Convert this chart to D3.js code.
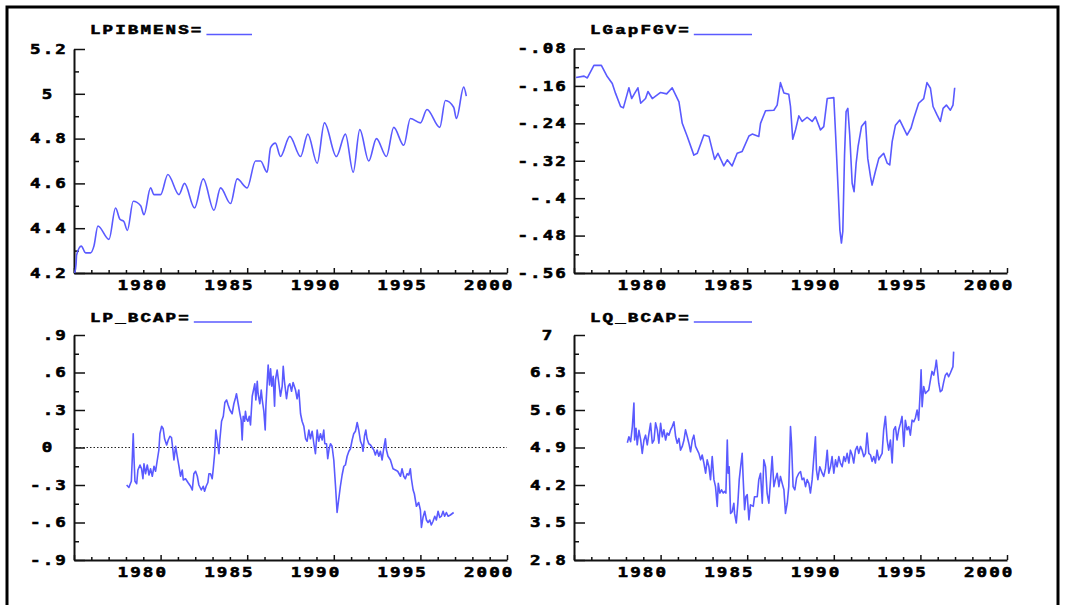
<!DOCTYPE html>
<html>
<head>
<meta charset="utf-8">
<script src="https://cdn.jsdelivr.net/npm/d3@7"></script>
<style>
  body { margin: 0; background: #fff; }
  svg { display: block; }
</style>
</head>
<body>
<svg width="1066" height="605"></svg>
<script>
// ---- data ----
const yearLabels = [1980, 1985, 1990, 1995, 2000];

const lpibYears = [1975.04,1975.12,1975.15,1975.42,1975.67,1975.96,1976.15,1976.38,1977.02,1977.40,1977.65,1977.88,1978.08,1978.42,1978.85,1979.04,1979.42,1979.62,1980.00,1980.42,1981.06,1981.38,1981.96,1982.46,1983.08,1983.46,1984.04,1984.42,1985.00,1985.48,1985.77,1986.15,1986.35,1986.63,1986.92,1987.46,1988.08,1988.50,1989.04,1989.46,1990.15,1990.67,1991.12,1991.50,1992.02,1992.46,1993.04,1993.46,1994.04,1994.42,1995.00,1995.38,1996.12,1996.44,1996.92,1997.08,1997.50,1997.65];
const lpibValues = [4.20,4.24,4.28,4.32,4.29,4.29,4.32,4.41,4.35,4.49,4.44,4.43,4.39,4.52,4.50,4.46,4.58,4.55,4.55,4.64,4.55,4.60,4.49,4.62,4.48,4.58,4.51,4.62,4.58,4.70,4.70,4.65,4.76,4.78,4.72,4.81,4.72,4.82,4.69,4.87,4.72,4.82,4.65,4.84,4.70,4.80,4.72,4.85,4.77,4.89,4.87,4.93,4.85,4.97,4.94,4.89,5.03,4.99];
const lpibTicks = [5.2, 5, 4.8, 4.6, 4.4, 4.2];
const lpibLabels = ["5.2", "5", "4.8", "4.6", "4.4", "4.2"];

const gapYears = [1975.12,1975.58,1975.77,1976.15,1976.58,1976.92,1977.21,1977.40,1977.69,1977.85,1978.08,1978.17,1978.33,1978.50,1978.69,1978.85,1979.13,1979.27,1979.52,1980.00,1980.35,1980.67,1981.06,1981.25,1981.54,1981.92,1982.12,1982.50,1982.79,1983.12,1983.31,1983.65,1983.85,1984.13,1984.42,1984.71,1985.10,1985.29,1985.67,1985.77,1986.06,1986.54,1986.73,1986.92,1987.12,1987.40,1987.50,1987.63,1987.79,1987.98,1988.17,1988.46,1988.75,1988.94,1989.23,1989.42,1989.62,1990.00,1990.12,1990.25,1990.35,1990.44,1990.52,1990.62,1990.71,1990.81,1990.92,1991.06,1991.17,1991.29,1991.40,1991.60,1991.83,1991.96,1992.12,1992.21,1992.40,1992.60,1992.88,1993.08,1993.23,1993.37,1993.56,1993.81,1994.23,1994.46,1994.62,1994.90,1995.19,1995.38,1995.58,1995.73,1995.96,1996.15,1996.31,1996.50,1996.73,1996.88,1996.98];
const gapValues = [-0.142,-0.139,-0.143,-0.116,-0.116,-0.140,-0.155,-0.176,-0.204,-0.207,-0.176,-0.164,-0.187,-0.176,-0.164,-0.197,-0.187,-0.172,-0.187,-0.174,-0.177,-0.164,-0.194,-0.240,-0.268,-0.308,-0.304,-0.265,-0.268,-0.317,-0.304,-0.331,-0.318,-0.331,-0.304,-0.300,-0.267,-0.263,-0.268,-0.240,-0.213,-0.212,-0.201,-0.153,-0.175,-0.178,-0.204,-0.274,-0.254,-0.224,-0.236,-0.227,-0.236,-0.226,-0.254,-0.247,-0.187,-0.185,-0.276,-0.382,-0.468,-0.496,-0.471,-0.308,-0.215,-0.208,-0.265,-0.368,-0.386,-0.325,-0.290,-0.247,-0.236,-0.315,-0.354,-0.372,-0.343,-0.315,-0.304,-0.325,-0.329,-0.279,-0.244,-0.233,-0.265,-0.250,-0.229,-0.197,-0.187,-0.153,-0.165,-0.204,-0.222,-0.236,-0.208,-0.201,-0.212,-0.201,-0.164];
const gapTicks = [-0.08, -0.16, -0.24, -0.32, -0.40, -0.48, -0.56];
const gapLabels = ["-.08", "-.16", "-.24", "-.32", "-.4", "-.48", "-.56"];

const lpYears = [1978.04,1978.17,1978.31,1978.37,1978.42,1978.46,1978.52,1978.62,1978.69,1978.81,1978.90,1978.98,1979.04,1979.13,1979.23,1979.33,1979.42,1979.52,1979.62,1979.71,1979.81,1979.90,1979.96,1980.06,1980.15,1980.23,1980.35,1980.44,1980.54,1980.63,1980.71,1980.77,1980.87,1980.96,1981.06,1981.15,1981.25,1981.31,1981.44,1981.58,1981.73,1981.83,1981.92,1982.02,1982.12,1982.21,1982.35,1982.46,1982.54,1982.63,1982.73,1982.79,1982.88,1982.98,1983.04,1983.12,1983.19,1983.27,1983.37,1983.42,1983.52,1983.62,1983.71,1983.81,1983.90,1984.00,1984.13,1984.23,1984.33,1984.38,1984.48,1984.58,1984.65,1984.71,1984.77,1984.85,1984.90,1984.96,1985.04,1985.12,1985.19,1985.29,1985.35,1985.44,1985.50,1985.58,1985.63,1985.73,1985.81,1985.87,1985.96,1986.04,1986.08,1986.15,1986.21,1986.29,1986.35,1986.42,1986.50,1986.58,1986.63,1986.73,1986.83,1986.92,1987.02,1987.08,1987.15,1987.27,1987.37,1987.46,1987.56,1987.65,1987.79,1987.88,1987.98,1988.08,1988.17,1988.27,1988.37,1988.46,1988.56,1988.65,1988.75,1988.85,1988.94,1989.04,1989.13,1989.23,1989.33,1989.42,1989.48,1989.58,1989.65,1989.73,1989.81,1989.90,1990.00,1990.10,1990.19,1990.27,1990.38,1990.48,1990.58,1990.67,1990.77,1990.87,1990.96,1991.06,1991.15,1991.25,1991.35,1991.44,1991.54,1991.63,1991.69,1991.77,1991.85,1991.92,1992.02,1992.12,1992.31,1992.40,1992.50,1992.60,1992.69,1992.79,1992.88,1992.98,1993.04,1993.13,1993.27,1993.42,1993.56,1993.69,1993.85,1993.94,1994.04,1994.13,1994.23,1994.33,1994.42,1994.48,1994.58,1994.65,1994.77,1994.90,1995.00,1995.06,1995.15,1995.25,1995.35,1995.44,1995.54,1995.63,1995.73,1995.83,1995.92,1996.02,1996.12,1996.21,1996.31,1996.40,1996.50,1996.60,1996.73,1996.92];
const lpValues = [-0.30,-0.32,-0.27,-0.07,0.11,-0.07,-0.27,-0.29,-0.18,-0.14,-0.17,-0.25,-0.13,-0.21,-0.14,-0.22,-0.17,-0.23,-0.15,-0.19,-0.10,-0.02,0.11,0.17,0.15,0.07,0.02,0.06,0.09,0.08,-0.02,-0.10,0.01,-0.07,-0.15,-0.23,-0.18,-0.26,-0.25,-0.28,-0.31,-0.34,-0.21,-0.19,-0.23,-0.30,-0.34,-0.31,-0.35,-0.31,-0.28,-0.21,-0.21,-0.25,-0.17,-0.05,0.14,0.06,-0.05,0.06,0.21,0.25,0.36,0.38,0.34,0.30,0.27,0.35,0.40,0.43,0.35,0.27,0.22,0.06,0.25,0.21,0.29,0.23,0.21,0.25,0.18,0.41,0.45,0.51,0.38,0.53,0.43,0.35,0.46,0.38,0.29,0.14,0.33,0.51,0.66,0.50,0.63,0.49,0.57,0.33,0.54,0.62,0.51,0.41,0.49,0.65,0.53,0.39,0.49,0.51,0.45,0.52,0.46,0.39,0.46,0.27,0.21,0.17,0.07,0.05,0.14,0.07,0.13,0.03,-0.05,0.14,0.05,0.11,0.06,0.14,0.03,0.03,-0.09,-0.01,0.03,0.01,-0.10,-0.31,-0.52,-0.43,-0.31,-0.22,-0.15,-0.14,-0.07,-0.03,-0.01,0.06,0.11,0.13,0.20,0.14,0.05,0.02,-0.03,0.09,0.14,0.07,0.03,0.02,-0.02,-0.06,-0.02,-0.07,-0.03,-0.10,-0.01,0.07,-0.02,-0.07,-0.10,-0.17,-0.18,-0.19,-0.23,-0.17,-0.23,-0.25,-0.21,-0.22,-0.17,-0.25,-0.34,-0.37,-0.47,-0.44,-0.50,-0.64,-0.56,-0.51,-0.58,-0.60,-0.58,-0.62,-0.59,-0.55,-0.58,-0.51,-0.56,-0.55,-0.51,-0.55,-0.52,-0.55,-0.54,-0.52];
const lpTicks = [0.9, 0.6, 0.3, 0, -0.3, -0.6, -0.9];
const lpLabels = [".9", ".6", ".3", "0", "-.3", "-.6", "-.9"];

const lqYears = [1978.08,1978.17,1978.27,1978.37,1978.46,1978.50,1978.58,1978.65,1978.75,1978.85,1978.94,1979.04,1979.13,1979.23,1979.33,1979.42,1979.52,1979.62,1979.71,1979.81,1979.90,1980.00,1980.10,1980.19,1980.29,1980.38,1980.48,1980.58,1980.67,1980.77,1980.87,1980.96,1981.06,1981.15,1981.25,1981.35,1981.44,1981.54,1981.63,1981.73,1981.83,1981.92,1982.02,1982.12,1982.21,1982.31,1982.40,1982.50,1982.60,1982.69,1982.79,1982.88,1982.98,1983.08,1983.17,1983.27,1983.33,1983.42,1983.52,1983.62,1983.69,1983.77,1983.85,1983.90,1983.96,1984.04,1984.13,1984.23,1984.27,1984.37,1984.46,1984.54,1984.62,1984.71,1984.77,1984.85,1984.92,1985.00,1985.10,1985.19,1985.35,1985.42,1985.58,1985.67,1985.77,1985.87,1985.96,1986.06,1986.15,1986.25,1986.35,1986.44,1986.54,1986.63,1986.73,1986.83,1986.92,1987.02,1987.12,1987.21,1987.31,1987.40,1987.50,1987.56,1987.65,1987.75,1987.85,1987.98,1988.08,1988.17,1988.27,1988.37,1988.46,1988.56,1988.65,1988.75,1988.85,1988.94,1989.00,1989.08,1989.19,1989.33,1989.42,1989.52,1989.62,1989.71,1989.81,1989.90,1990.00,1990.10,1990.19,1990.29,1990.38,1990.48,1990.58,1990.67,1990.77,1990.87,1990.96,1991.06,1991.15,1991.25,1991.35,1991.44,1991.54,1991.63,1991.73,1991.83,1991.92,1992.02,1992.12,1992.21,1992.31,1992.40,1992.50,1992.60,1992.69,1992.79,1992.88,1992.98,1993.08,1993.17,1993.27,1993.37,1993.46,1993.56,1993.65,1993.75,1993.85,1993.94,1994.04,1994.13,1994.23,1994.33,1994.42,1994.52,1994.62,1994.71,1994.81,1994.90,1995.00,1995.04,1995.10,1995.19,1995.29,1995.38,1995.48,1995.58,1995.67,1995.77,1995.87,1995.92,1996.00,1996.06,1996.15,1996.25,1996.35,1996.44,1996.54,1996.63,1996.73,1996.88,1996.92];
const lqValues = [4.99,5.10,5.01,5.29,5.73,5.04,5.26,4.95,5.22,5.04,4.79,5.04,5.13,4.95,5.17,5.35,4.98,5.04,5.36,5.23,4.98,5.35,5.10,5.23,5.04,5.17,5.13,5.23,5.29,5.38,5.10,4.98,5.07,4.85,4.92,5.04,5.23,5.10,4.98,4.82,5.04,5.13,4.92,4.85,4.79,4.67,4.76,4.61,4.42,4.67,4.54,4.30,4.73,4.30,4.17,3.80,4.23,4.05,4.11,4.05,4.08,4.05,5.04,4.42,4.54,3.67,3.70,3.86,3.67,3.49,3.86,4.30,4.54,4.79,4.30,3.74,3.98,4.02,3.55,3.83,3.80,3.98,3.98,4.30,4.42,3.86,4.67,4.54,4.05,3.86,4.30,4.73,4.17,4.30,4.42,4.17,4.36,4.23,4.11,3.67,3.86,4.17,5.29,4.98,4.17,4.11,4.33,4.42,4.45,4.30,4.33,4.17,4.30,4.23,4.05,4.30,4.73,5.10,4.48,4.30,4.54,4.42,4.36,4.51,4.85,4.42,4.54,4.73,4.42,4.67,4.54,4.73,4.61,4.54,4.73,4.64,4.79,4.61,4.85,4.76,4.61,4.85,4.92,4.79,4.92,4.85,4.73,4.79,5.17,4.79,4.76,4.64,4.73,4.61,4.85,4.67,4.73,4.79,5.23,5.48,5.04,4.85,5.04,4.61,5.23,5.29,5.04,5.23,5.35,5.48,4.92,5.41,5.23,5.29,5.13,5.41,5.38,5.45,5.60,5.41,6.01,6.35,5.66,6.04,5.91,5.94,5.97,6.16,6.32,6.25,6.41,6.53,6.29,6.10,5.94,5.97,6.13,6.25,6.29,6.22,6.29,6.41,6.69];
const lqTicks = [7, 6.3, 5.6, 4.9, 4.2, 3.5, 2.8];
const lqLabels = ["7", "6.3", "5.6", "4.9", "4.2", "3.5", "2.8"];

// ---- layout ----
const svg = d3.select("svg");
const lineColor = "#5a5aff";
const sx = 1.3; // stretch the glyphs sideways like the original bitmap font

svg.append("rect")
  .attr("x", 7).attr("y", 7)
  .attr("width", 1051).attr("height", 640)
  .attr("fill", "none").attr("stroke", "#000").attr("stroke-width", 3);

const panels = [
  { title: "LPIBMENS=", t: lpibYears, v: lpibValues, ticks: lpibTicks, labels: lpibLabels,
    left: 74, top: 49, bottom: 273, titleY: 34.5, curve: d3.curveMonotoneX },
  { title: "LGapFGV=", t: gapYears, v: gapValues, ticks: gapTicks, labels: gapLabels,
    left: 574, top: 48.5, bottom: 273, titleY: 34.5, curve: d3.curveLinear },
  { title: "LP_BCAP=", t: lpYears, v: lpValues, ticks: lpTicks, labels: lpLabels,
    left: 74, top: 335, bottom: 560, titleY: 322, curve: d3.curveLinear, zero: true },
  { title: "LQ_BCAP=", t: lqYears, v: lqValues, ticks: lqTicks, labels: lqLabels,
    left: 574, top: 335, bottom: 560, titleY: 322, curve: d3.curveLinear }
];

function bitmapText(sel) {
  sel.attr("font-family", "'DejaVu Sans Mono', monospace")
    .attr("font-weight", "bold")
    .attr("font-size", 13.5)
    .attr("letter-spacing", 1.6)
    .attr("fill", "#000")
    .attr("stroke", "#000")
    .attr("stroke-width", 0.55)
    .attr("transform", `scale(${sx},1)`);
}

panels.forEach(p => {
  const x = d3.scaleLinear().domain([1975, 2000]).range([p.left, p.left + 433]);
  const y = d3.scaleLinear().domain([p.ticks[p.ticks.length - 1], p.ticks[0]]).range([p.bottom, p.top]);
  const g = svg.append("g");

  // minor y ticks, half way between labelled ones
  const yMinor = d3.pairs(p.ticks).map(([a, b]) => (a + b) / 2);
  g.append("g")
    .attr("transform", `translate(${p.left},0)`)
    .call(d3.axisLeft(y).tickValues(yMinor).tickSize(-5).tickFormat(""))
    .call(s => s.select(".domain").remove());

  const ya = g.append("g")
    .attr("transform", `translate(${p.left},0)`)
    .call(d3.axisLeft(y).tickValues(p.ticks).tickSize(-11).tickSizeOuter(0)
      .tickFormat((d, i) => p.labels[i]));
  ya.selectAll("text").call(bitmapText)
    .attr("text-anchor", (d, i) => p.labels[i].length === 1 ? "middle" : "end")
    .attr("x", (d, i) => (p.labels[i].length === 1 ? -26 : -6) / sx);

  // x axis: a tick every year, bigger every five
  const yearsAll = d3.range(1975, 2001);
  g.append("g")
    .attr("transform", `translate(0,${p.bottom})`)
    .call(d3.axisBottom(x).tickValues(yearsAll.filter(d => d % 5)).tickSize(-3).tickFormat(""))
    .call(s => s.select(".domain").remove());
  const xa = g.append("g")
    .attr("transform", `translate(0,${p.bottom})`)
    .call(d3.axisBottom(x).tickValues([1975].concat(yearLabels)).tickSize(-5).tickSizeOuter(0)
      .tickFormat(d => yearLabels.includes(d) ? d : ""));
  xa.selectAll("text").call(bitmapText)
    .attr("text-anchor", "end")
    .attr("x", 7 / sx)
    .attr("y", 17)
    .attr("dy", 0);

  g.selectAll(".domain").attr("stroke", "#111").attr("stroke-width", 2);
  g.selectAll(".tick line").attr("stroke", "#111").attr("stroke-width", 1.5);

  if (p.zero) {
    g.append("line")
      .attr("x1", p.left + 2).attr("x2", x(2000))
      .attr("y1", y(0)).attr("y2", y(0))
      .attr("stroke", "#222").attr("stroke-width", 1)
      .attr("stroke-dasharray", "1.5,2");
  }

  const pts = d3.zip(p.t, p.v);
  g.append("path")
    .datum(pts)
    .attr("fill", "none")
    .attr("stroke", lineColor)
    .attr("stroke-width", 1.6)
    .attr("stroke-linejoin", "round")
    .attr("d", d3.line().x(d => x(d[0])).y(d => y(d[1])).curve(p.curve));

  // title with the legend stroke after it
  const tt = g.append("text")
    .text(p.title)
    .call(bitmapText)
    .attr("font-family", "'Liberation Mono', monospace")
    .attr("x", (p.left + 16) / sx)
    .attr("y", p.titleY);
  const bb = tt.node().getBBox();
  g.append("line")
    .attr("x1", (bb.x + bb.width) * sx + 3).attr("x2", p.left + 178)
    .attr("y1", p.titleY).attr("y2", p.titleY)
    .attr("stroke", lineColor).attr("stroke-width", 1.5);
});
</script>
</body>
</html>
